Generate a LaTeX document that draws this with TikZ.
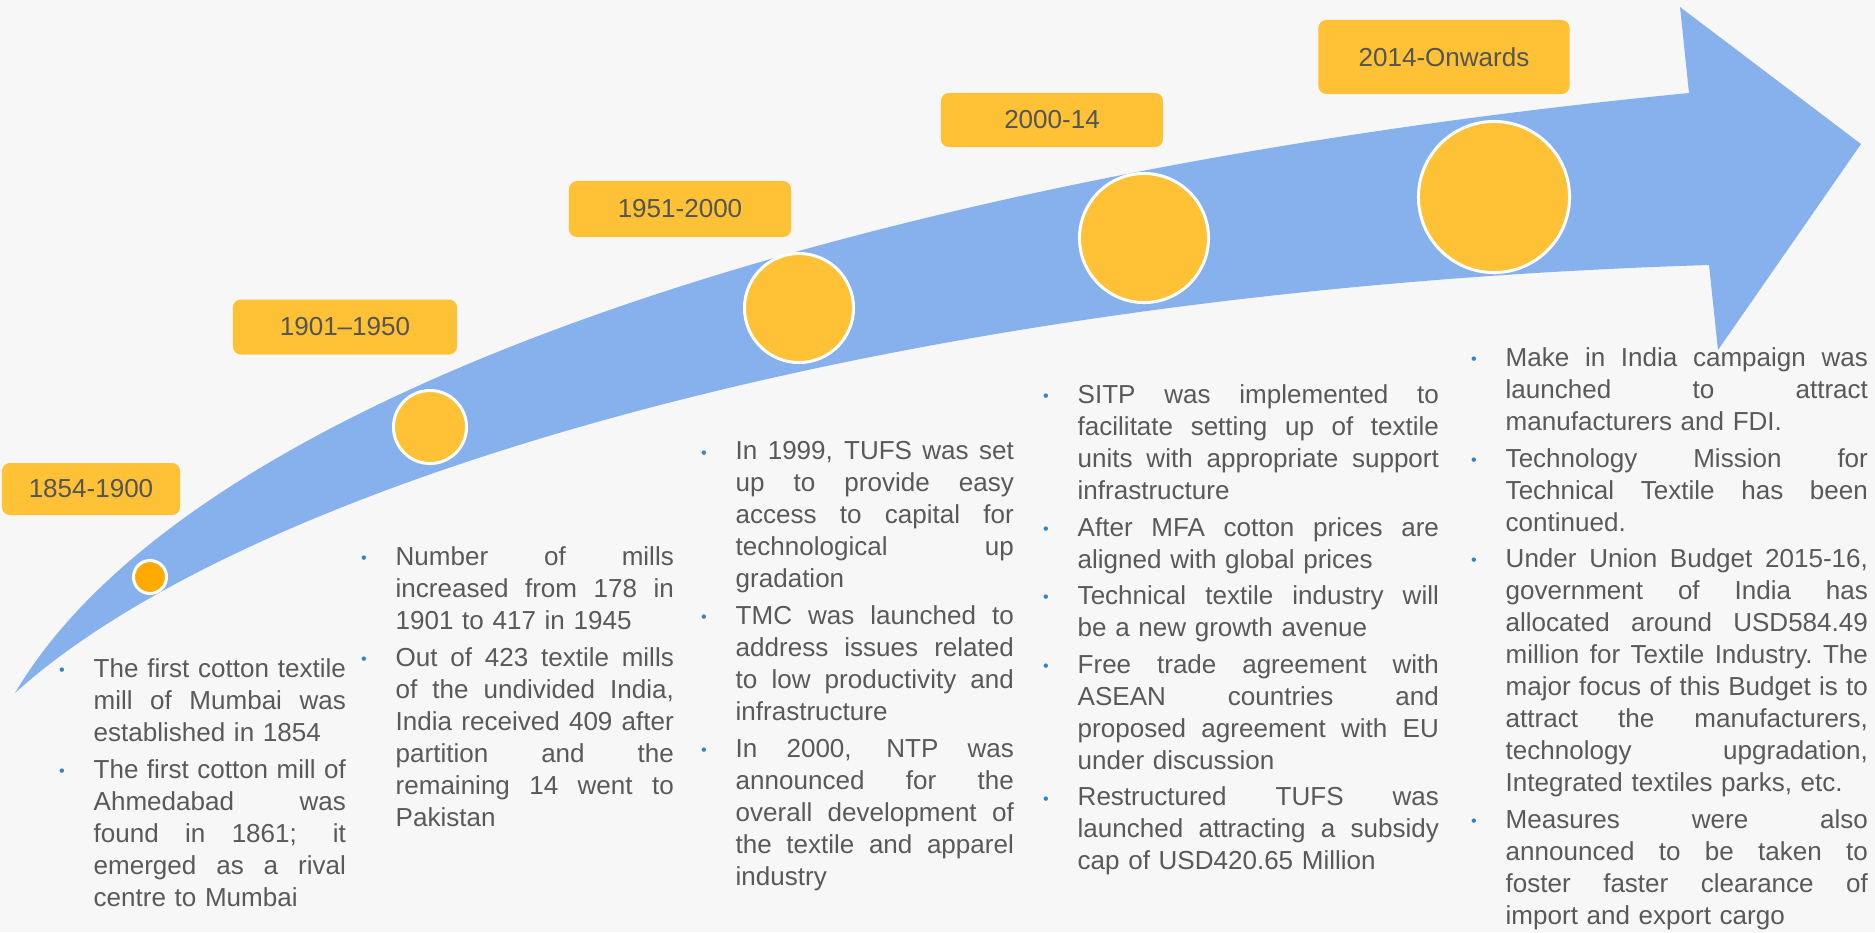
\documentclass[tikz,border=0pt]{standalone}
\usepackage{fontspec}
\setmainfont{Liberation Sans}

\definecolor{bgcol}{HTML}{F7F7F7}
\definecolor{arrowblue}{HTML}{87B1ED}
\definecolor{boxyellow}{HTML}{FFC136}
\definecolor{dotorange}{HTML}{FFAA00}
\definecolor{textgray}{HTML}{595959}
\definecolor{labelgray}{HTML}{545454}
\definecolor{bulletblue}{HTML}{2E86C8}

\hbadness=10000
\newcommand\bulletmark{\textcolor{bulletblue}{\fontsize{4.6}{4.6}\selectfont\raisebox{0.5pt}{•}}\hspace{0.29cm}}
\newcommand\fillspace{\spaceskip=0.278em plus 1fil minus 0.04em\xspaceskip=\spaceskip\relax}
\newcommand\fline[1]{\noindent\hbox to\hsize{\fillspace\llap{\bulletmark}#1}\par}
\newcommand\jline[1]{\noindent\hbox to\hsize{\fillspace#1}\par}
\newcommand\eline[1]{\noindent\hbox{\frenchspacing#1}\par}
\newcommand\itemgap{\vspace{1.3pt}}

\tikzset{
  yearbox/.style={fill=boxyellow, rounded corners=0.08cm, inner sep=0pt,
    font=\fontsize{7.4}{9}\selectfont, text=labelgray},
  dot/.style={circle, fill=boxyellow, draw=white, line width=0.85pt, inner sep=0pt},
  coltext/.style={anchor=north west, inner sep=0pt, text=textgray,
    font=\fontsize{7.4}{9.1}\selectfont}
}

\begin{document}
\begin{tikzpicture}[x=0.01cm, y=-0.01cm]
        % Background
        \fill[bgcol] (0,0) rectangle (1875,932);
        \useasboundingbox (0,0) rectangle (1875,932);

        % Arrow
        \fill[arrowblue] (15,693) .. controls (200,380) and (900,170) .. (1689,93)
            -- (1680,7) -- (1861,144) -- (1718,350) -- (1709,265)
            .. controls (900,290) and (250,480) .. (15,693) -- cycle;

        % Circles on the arrow
        \node[dot, fill=dotorange, minimum size=0.33cm] (dot1) at (150,577) {};
        \node[dot, minimum size=0.73cm] (dot2) at (430,427) {};
        \node[dot, minimum size=1.09cm] (dot3) at (799,308) {};
        \node[dot, minimum size=1.29cm] (dot4) at (1144,238) {};
        \node[dot, minimum size=1.51cm] (dot5) at (1494,197) {};

        % Year labels
        \node[yearbox, minimum width=1.78cm, minimum height=0.52cm] (yr1) at (91,489) {1854-1900};
        \node[yearbox, minimum width=2.24cm, minimum height=0.55cm] (yr2) at (345,327) {1901–1950};
        \node[yearbox, minimum width=2.22cm, minimum height=0.56cm] (yr3) at (680,209) {1951-2000};
        \node[yearbox, minimum width=2.22cm, minimum height=0.54cm] (yr4) at (1052,120) {2000-14};
        \node[yearbox, minimum width=2.51cm, minimum height=0.74cm] (yr5) at (1444,57) {2014-Onwards};

        % Text under each period
        \node[coltext, text width=2.52cm] (col1) at (93,658) {%
            \fline{The first cotton textile}
            \jline{mill of Mumbai was}
            \eline{established in 1854}\itemgap
            \fline{The first cotton mill of}
            \jline{Ahmedabad was}
            \jline{found in 1861; it}
            \jline{emerged as a rival}
            \eline{centre to Mumbai}};

        \node[coltext, text width=2.78cm] (col2) at (395,546) {%
            \fline{Number of mills}
            \jline{increased from 178 in}
            \eline{1901 to 417 in 1945}\itemgap
            \fline{Out of 423 textile mills}
            \jline{of the undivided India,}
            \jline{India received 409 after}
            \jline{partition and the}
            \jline{remaining 14 went to}
            \eline{Pakistan}};

        \node[coltext, text width=2.78cm] (col3) at (735,441) {%
            \fline{In 1999, TUFS was set}
            \jline{up to provide easy}
            \jline{access to capital for}
            \jline{technological up}
            \eline{gradation}\itemgap
            \fline{TMC was launched to}
            \jline{address issues related}
            \jline{to low productivity and}
            \eline{infrastructure}\itemgap
            \fline{In 2000, NTP was}
            \jline{announced for the}
            \jline{overall development of}
            \jline{the textile and apparel}
            \eline{industry}};

        \node[coltext, text width=3.61cm] (col4) at (1077,384) {%
            \fline{SITP was implemented to}
            \jline{facilitate setting up of textile}
            \jline{units with appropriate support}
            \eline{infrastructure}\itemgap
            \fline{After MFA cotton prices are}
            \eline{aligned with global prices}\itemgap
            \fline{Technical textile industry will}
            \eline{be a new growth avenue}\itemgap
            \fline{Free trade agreement with}
            \jline{ASEAN countries and}
            \jline{proposed agreement with EU}
            \eline{under discussion}\itemgap
            \fline{Restructured TUFS was}
            \jline{launched attracting a subsidy}
            \eline{cap of USD420.65 Million}};

        \node[coltext, text width=3.62cm] (col5) at (1505,347) {%
            \fline{Make in India campaign was}
            \jline{launched to attract}
            \eline{manufacturers and FDI.}\itemgap
            \fline{Technology Mission for}
            \jline{Technical Textile has been}
            \eline{continued.}\itemgap
            \fline{Under Union Budget 2015-16,}
            \jline{government of India has}
            \jline{allocated around USD584.49}
            \jline{million for Textile Industry. The}
            \jline{major focus of this Budget is to}
            \jline{attract the manufacturers,}
            \jline{technology upgradation,}
            \eline{Integrated textiles parks, etc.}\itemgap
            \fline{Measures were also}
            \jline{announced to be taken to}
            \jline{foster faster clearance of}
            \eline{import and export cargo}};
    \end{tikzpicture}
\end{document}
